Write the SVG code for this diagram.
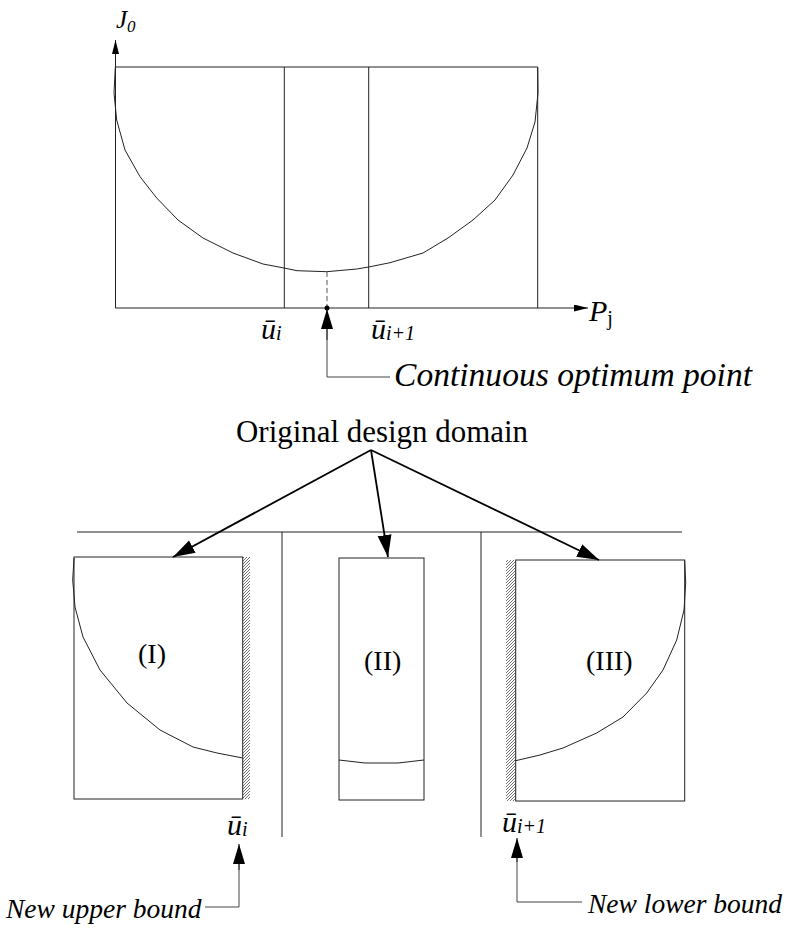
<svg xmlns="http://www.w3.org/2000/svg" width="786" height="928" viewBox="0 0 786 928">
<style>
.ln{fill:none;stroke:#222;stroke-width:1}
.thin{fill:none;stroke:#444;stroke-width:1}
.arr{fill:none;stroke:#000;stroke-width:1.8}
text{font-family:'Liberation Serif','Times New Roman','DejaVu Serif',serif;fill:#000}
.it{font-style:italic}
</style>
<defs>
<marker id="ah" markerUnits="userSpaceOnUse" markerWidth="24" markerHeight="16" refX="22" refY="7" orient="auto">
<path d="M0,0 L22,7 L0,14 z" fill="#000"/>
</marker>
<marker id="ahs" markerUnits="userSpaceOnUse" markerWidth="22" markerHeight="14" refX="20" refY="6" orient="auto">
<path d="M0,0 L20,6 L0,12 z" fill="#000"/>
</marker>
<marker id="axh" markerUnits="userSpaceOnUse" markerWidth="16" markerHeight="8" refX="14" refY="3.5" orient="auto">
<path d="M0,0 L14,3.5 L0,7 z" fill="#000"/>
</marker>
<pattern id="hatch" patternUnits="userSpaceOnUse" width="3" height="3">
<path d="M-1,1 L1,-1 M0,3 L3,0 M2,4 L4,2" stroke="#333" stroke-width="0.7"/>
</pattern>
</defs>

<!-- Top chart -->
<g id="chart">
<line class="ln" x1="115.5" y1="308" x2="115.5" y2="40" marker-end="url(#axh)"/>
<line class="ln" x1="115.5" y1="308" x2="588" y2="308" marker-end="url(#axh)"/>
<polyline class="ln" points="115.5,67 537.7,67 537.7,308"/>
<line class="ln" x1="284.3" y1="67" x2="284.3" y2="308"/>
<line class="ln" x1="368.7" y1="67" x2="368.7" y2="308"/>
<polyline class="ln" points="115.3,67.3 114,93 116.7,120 125,150 140,176.7 156.7,198 178,220 203,238 233,253 263,264 284,268 297,270.7 326.7,271.7 356.7,269 368.7,267 390,262.7 423,253 448,238 473,220 495,200 513,175 527,148 535,122 538,93 537.7,67.3"/>
<line x1="327" y1="272" x2="327" y2="308" stroke="#555" stroke-width="1" stroke-dasharray="5,3"/>
<circle cx="327" cy="308" r="2.5" fill="#000"/>
<text class="it" x="116" y="28" font-size="25">J<tspan font-size="17" dy="4">0</tspan></text>
<text x="589" y="321" font-size="30"><tspan class="it">P</tspan><tspan font-size="20" dy="4">j</tspan></text>
<text class="it" x="261" y="339" font-size="30">ū<tspan font-size="20" dy="1">i</tspan></text>
<text class="it" x="371" y="339" font-size="30">ū<tspan font-size="20" dy="1">i+1</tspan></text>
</g>

<g id="continuous-optimum">
<polyline class="thin" points="327,329 327,377 390,377" />
<line class="ln" x1="327" y1="340" x2="327" y2="309" marker-end="url(#ahs)"/>
<text class="it" x="394" y="386" font-size="33" textLength="358" lengthAdjust="spacingAndGlyphs">Continuous optimum point</text>
</g>

<!-- Bottom part -->
<g id="original-domain">
<text x="236" y="442" font-size="31" textLength="292" lengthAdjust="spacingAndGlyphs">Original design domain</text>
</g>

<g id="frame">
<line class="ln" x1="77" y1="532" x2="682" y2="532"/>
<line class="ln" x1="282" y1="532" x2="282" y2="837"/>
<line class="ln" x1="481" y1="532" x2="481" y2="837"/>
</g>

<g id="box-I">
<rect x="243" y="557" width="7" height="242" fill="url(#hatch)"/>
<rect class="ln" x="74" y="557" width="168.7" height="242"/>
<polyline class="ln" points="74,558 72.7,580 75,607 83,637 100,670 127,703 160,730 193,747 217,753 242.7,758"/>
<text x="138" y="663" font-size="28">(I)</text>
</g>

<g id="box-II">
<rect class="ln" x="339" y="558" width="85" height="242"/>
<polyline class="ln" points="339,760 365,763 398,763 424,760"/>
<text x="364" y="670" font-size="28">(II)</text>
</g>

<g id="box-III">
<rect x="506" y="560" width="9.5" height="241" fill="url(#hatch)"/>
<rect class="ln" x="515.7" y="560" width="169" height="241"/>
<polyline class="ln" points="684.7,560.7 685.7,583 684,610 676.7,640 663,670 646.7,693 623,717 596.7,733 563,748 540,755 515.7,760.7"/>
<text x="586" y="670" font-size="28">(III)</text>
</g>

<g id="bound-labels">
<text class="it" x="227" y="835" font-size="30">ū<tspan font-size="20" dy="1">i</tspan></text>
<text class="it" x="502" y="832" font-size="30">ū<tspan font-size="20" dy="1">i+1</tspan></text>
</g>

<g id="new-upper-bound">
<text class="it" x="6" y="918" font-size="27.5">New upper bound</text>
</g>
<g id="new-lower-bound">
<text class="it" x="588" y="913" font-size="27.5">New lower bound</text>
</g>

<g id="connectors">
<line class="arr" x1="371" y1="450" x2="173" y2="557" marker-end="url(#ah)"/>
<line class="arr" x1="371" y1="450" x2="388" y2="557" marker-end="url(#ah)"/>
<line class="arr" x1="371" y1="450" x2="599" y2="560" marker-end="url(#ah)"/>
<polyline class="thin" points="205,907 239,907 239,864"/>
<line class="ln" x1="239" y1="870" x2="239" y2="844" marker-end="url(#ahs)"/>
<polyline class="thin" points="582,902 517,902 517,858"/>
<line class="ln" x1="517" y1="862" x2="517" y2="838" marker-end="url(#ahs)"/>
</g>
</svg>
